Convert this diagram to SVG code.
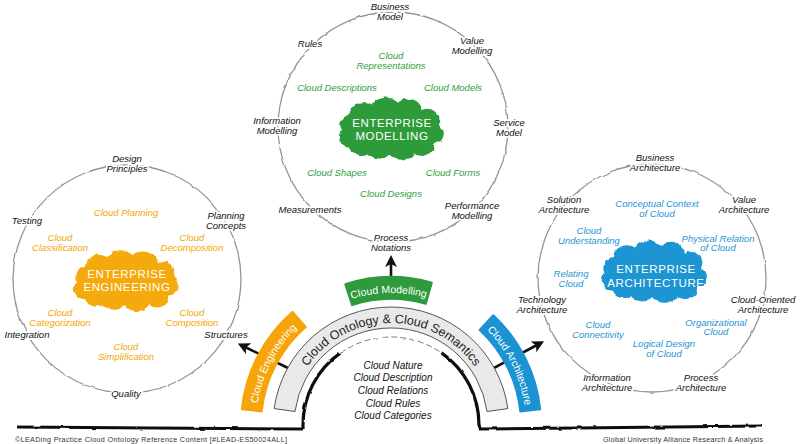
<svg xmlns="http://www.w3.org/2000/svg" xmlns:xlink="http://www.w3.org/1999/xlink" width="800" height="444" viewBox="0 0 800 444">
<style>
.lbl{font-family:"Liberation Sans",Arial,sans-serif;font-size:9.5px;font-style:italic;text-anchor:middle;fill:#111;stroke:#fff;stroke-width:3.5px;stroke-linejoin:round;paint-order:stroke}
.g{fill:#2f9e3e}
.o{fill:#f0a800}
.b{fill:#1d96d6}
.ttl{font-family:"Liberation Sans",Arial,sans-serif;font-size:11.5px;fill:#fff;text-anchor:middle;letter-spacing:0.6px}
.ring{fill:none;stroke:#959595;stroke-width:1.3}
.tab{font-family:"Liberation Sans",Arial,sans-serif;fill:#fff;font-size:10.5px}
.lst{font-family:"Liberation Sans",Arial,sans-serif;font-size:10px;font-style:italic;text-anchor:middle;fill:#111}
.foot{font-family:"Liberation Sans",Arial,sans-serif;font-size:7.2px;fill:#333}
.arr{stroke:#111;stroke-width:2.6;fill:none;marker-end:url(#ah)}
</style>
<defs>
<filter id="rough" filterUnits="userSpaceOnUse" x="0" y="0" width="800" height="444">
<feTurbulence type="fractalNoise" baseFrequency="0.09" numOctaves="2" seed="4"/>
<feDisplacementMap in="SourceGraphic" scale="2.5" xChannelSelector="R" yChannelSelector="G"/>
</filter>
<filter id="fuzz" filterUnits="userSpaceOnUse" x="0" y="0" width="800" height="444">
<feTurbulence type="fractalNoise" baseFrequency="0.15" numOctaves="2" seed="7"/>
<feDisplacementMap in="SourceGraphic" scale="4" xChannelSelector="R" yChannelSelector="G"/>
</filter>
<path id="cloud" d="M -40,22 A 12 12 0 0 1 -48,2 A 12 12 0 0 1 -40,-16 A 14 14 0 0 1 -18,-26 A 16 16 0 0 1 8,-28 A 14 14 0 0 1 32,-20 A 12 12 0 0 1 48,-4 A 12 12 0 0 1 44,18 A 12 12 0 0 1 24,28 A 14 14 0 0 1 0,29 A 14 14 0 0 1 -22,28 A 12 12 0 0 1 -40,22 Z"/>
<marker id="ah" markerUnits="userSpaceOnUse" markerWidth="12" markerHeight="12" viewBox="0 0 12 12" refX="4" refY="6" orient="auto">
<path d="M0,0 L12,6 L0,12 L3,6 Z" fill="#111"/>
</marker>
<path id="pGray" d="M 289.99 410.8 A 102 102 0 0 1 492.01 410.8"/>
<path id="pOrange" d="M 256.74 410.89 A 135 135 0 0 1 302.43 323.12"/>
<path id="pBlue" d="M 483.07 326.26 A 135 135 0 0 1 525.26 410.89"/>
<path id="pGreen" d="M 341.55 302.61 A 132 132 0 0 1 436.14 300.96"/>
</defs>
<rect width="800" height="444" fill="#fff"/>

<g id="ground" filter="url(#rough)">
<path d="M 17 427 L 303 429" stroke="#111" stroke-width="3" fill="none"/>
<path d="M 479 429 L 762 426" stroke="#111" stroke-width="3" fill="none"/>
<path d="M 303 429 L 303 425 A 88 88 0 0 1 340.5 352.9" stroke="#111" stroke-width="3.2" fill="none"/>
<path d="M 441.5 352.9 A 88 88 0 0 1 479 425 L 480 429" stroke="#111" stroke-width="3.2" fill="none"/>
<path d="M 340.5 352.9 A 88 88 0 0 1 441.5 352.9" stroke="#777" stroke-width="1" stroke-dasharray="6 3" fill="none"/>
</g>

<g id="modelling">
<circle class="ring" cx="393" cy="127" r="115" filter="url(#rough)"/>
<g filter="url(#fuzz)"><use href="#cloud" transform="translate(390,128) scale(1,0.9)" fill="#2e9b3b"/></g>
<text class="ttl" x="392" y="127">ENTERPRISE<tspan x="392" dy="13">MODELLING</tspan></text>
<text class="lbl" x="390" y="9.5">Business<tspan x="390" dy="10">Model</tspan></text>
<text class="lbl" x="310" y="46.5">Rules</text>
<text class="lbl" x="472" y="43.5">Value<tspan x="472" dy="10">Modelling</tspan></text>
<text class="lbl g" x="391" y="58.5">Cloud<tspan x="391" dy="10">Representations</tspan></text>
<text class="lbl g" x="337" y="90.5">Cloud Descriptions</text>
<text class="lbl g" x="453" y="90.5">Cloud Models</text>
<text class="lbl" x="277" y="123.5">Information<tspan x="277" dy="10">Modelling</tspan></text>
<text class="lbl" x="509" y="125.5">Service<tspan x="509" dy="10">Model</tspan></text>
<text class="lbl g" x="337" y="175.5">Cloud Shapes</text>
<text class="lbl g" x="453" y="175.5">Cloud Forms</text>
<text class="lbl g" x="391" y="196.5">Cloud Designs</text>
<text class="lbl" x="310" y="212.5">Measurements</text>
<text class="lbl" x="472" y="208.5">Performance<tspan x="472" dy="10.5">Modelling</tspan></text>
<text class="lbl" x="391" y="240.5">Process<tspan x="391" dy="10.5">Notations</tspan></text>
</g>

<g id="engineering">
<circle class="ring" cx="127" cy="279" r="114" filter="url(#rough)"/>
<g filter="url(#fuzz)"><use href="#cloud" transform="translate(125,280) scale(1,0.88)" fill="#f4aa0b"/></g>
<text class="ttl" x="127" y="278">ENTERPRISE<tspan x="127" dy="13">ENGINEERING</tspan></text>
<text class="lbl" x="127" y="161.5">Design<tspan x="127" dy="10">Principles</tspan></text>
<text class="lbl o" x="126" y="215.5">Cloud Planning</text>
<text class="lbl" x="27" y="223.5">Testing</text>
<text class="lbl" x="226" y="218.5">Planning<tspan x="226" dy="10">Concepts</tspan></text>
<text class="lbl o" x="60" y="240.5">Cloud<tspan x="60" dy="10">Classification</tspan></text>
<text class="lbl o" x="192" y="240.5">Cloud<tspan x="192" dy="10">Decomposition</tspan></text>
<text class="lbl o" x="60" y="315.5">Cloud<tspan x="60" dy="10">Categorization</tspan></text>
<text class="lbl o" x="192" y="315.5">Cloud<tspan x="192" dy="10">Composition</tspan></text>
<text class="lbl" x="27" y="337.5">Integration</text>
<text class="lbl" x="226" y="337.5">Structures</text>
<text class="lbl o" x="126" y="349.5">Cloud<tspan x="126" dy="10.5">Simplification</tspan></text>
<text class="lbl" x="126" y="396.5">Quality</text>
</g>

<g id="architecture">
<circle class="ring" cx="652" cy="278" r="114" filter="url(#rough)"/>
<g filter="url(#fuzz)"><use href="#cloud" transform="translate(653,271) scale(1,0.9)" fill="#1b95d2"/></g>
<text class="ttl" x="656" y="273">ENTERPRISE<tspan x="656" dy="13.5">ARCHITECTURE</tspan></text>
<text class="lbl" x="655" y="160.5">Business<tspan x="655" dy="10">Architecture</tspan></text>
<text class="lbl" x="564" y="202.5">Solution<tspan x="564" dy="10">Architecture</tspan></text>
<text class="lbl" x="744" y="202.5">Value<tspan x="744" dy="10">Architecture</tspan></text>
<text class="lbl b" x="657" y="206.5">Conceptual Context<tspan x="657" dy="10">of Cloud</tspan></text>
<text class="lbl b" x="589" y="233.5">Cloud<tspan x="589" dy="10">Understanding</tspan></text>
<text class="lbl b" x="718" y="241.5">Physical Relation<tspan x="718" dy="9.5">of Cloud</tspan></text>
<text class="lbl b" x="571" y="276.5">Relating<tspan x="571" dy="10">Cloud</tspan></text>
<text class="lbl" x="542" y="302.5">Technology<tspan x="542" dy="10">Architecture</tspan></text>
<text class="lbl" x="763" y="302.5">Cloud-Oriented<tspan x="763" dy="10">Architecture</tspan></text>
<text class="lbl b" x="598" y="327.5">Cloud<tspan x="598" dy="10">Connectivity</tspan></text>
<text class="lbl b" x="716" y="325.5">Organizational<tspan x="716" dy="9.5">Cloud</tspan></text>
<text class="lbl b" x="664" y="346.5">Logical Design<tspan x="664" dy="10">of Cloud</tspan></text>
<text class="lbl" x="607" y="380.5">Information<tspan x="607" dy="10">Architecture</tspan></text>
<text class="lbl" x="701" y="380.5">Process<tspan x="701" dy="10">Architecture</tspan></text>
</g>

<g id="connectors">
<path class="arr" d="M 391 278 L 391 263"/>
<path class="arr" d="M 290 369 L 245 347"/>
<path class="arr" d="M 492 369 L 537 345"/>
</g>

<g id="ontology">
<path d="M 274.15 408.58 A 118 118 0 0 1 507.85 408.58 L 487.06 411.5 A 97 97 0 0 0 294.94 411.5 Z" fill="#e9e9e9" stroke="#555" stroke-width="1" stroke-linejoin="round"/>
<text font-family="'Liberation Sans',Arial,sans-serif" font-size="12.5" fill="#222" text-anchor="middle"><textPath href="#pGray" startOffset="50%">Cloud Ontology &amp; Cloud Semantics</textPath></text>
</g>

<g id="tab-engineering">
<path d="M 241.82 409.32 A 150 150 0 0 1 292.58 311.8 L 305.71 326.89 A 130 130 0 0 0 261.71 411.41 Z" fill="#f5a50a" stroke="#f5a50a" stroke-width="2" stroke-linejoin="round"/>
<text class="tab" text-anchor="middle"><textPath href="#pOrange" startOffset="50%">Cloud Engineering</textPath></text>
</g>

<g id="tab-architecture">
<path d="M 493.3 315.29 A 150 150 0 0 1 540.18 409.32 L 520.29 411.41 A 130 130 0 0 0 479.66 329.92 Z" fill="#1b93d3" stroke="#1b93d3" stroke-width="2" stroke-linejoin="round"/>
<text class="tab" text-anchor="middle"><textPath href="#pBlue" startOffset="50%">Cloud Architecture</textPath></text>
</g>

<g id="tab-modelling">
<path d="M 345.27 284.24 A 148 148 0 0 1 431.79 282.73 L 425.73 303.88 A 126 126 0 0 0 352.07 305.16 Z" fill="#2e9a3c" stroke="#2e9a3c" stroke-width="2" stroke-linejoin="round"/>
<text class="tab" text-anchor="middle"><textPath href="#pGreen" startOffset="50%">Cloud Modelling</textPath></text>
</g>

<g id="cloud-list">
<text class="lst" x="393" y="368.5">Cloud Nature</text>
<text class="lst" x="393" y="381">Cloud Description</text>
<text class="lst" x="393" y="393.5">Cloud Relations</text>
<text class="lst" x="393" y="406.5">Cloud Rules</text>
<text class="lst" x="393" y="419">Cloud Categories</text>
</g>

<g id="footer">
<text class="foot" x="15" y="442" textLength="272">©LEADing Practice Cloud Ontology Reference Content [#LEAD-ES50024ALL]</text>
<text class="foot" x="603" y="442" textLength="160">Global University Alliance Research &amp; Analysis</text>
</g>
</svg>
